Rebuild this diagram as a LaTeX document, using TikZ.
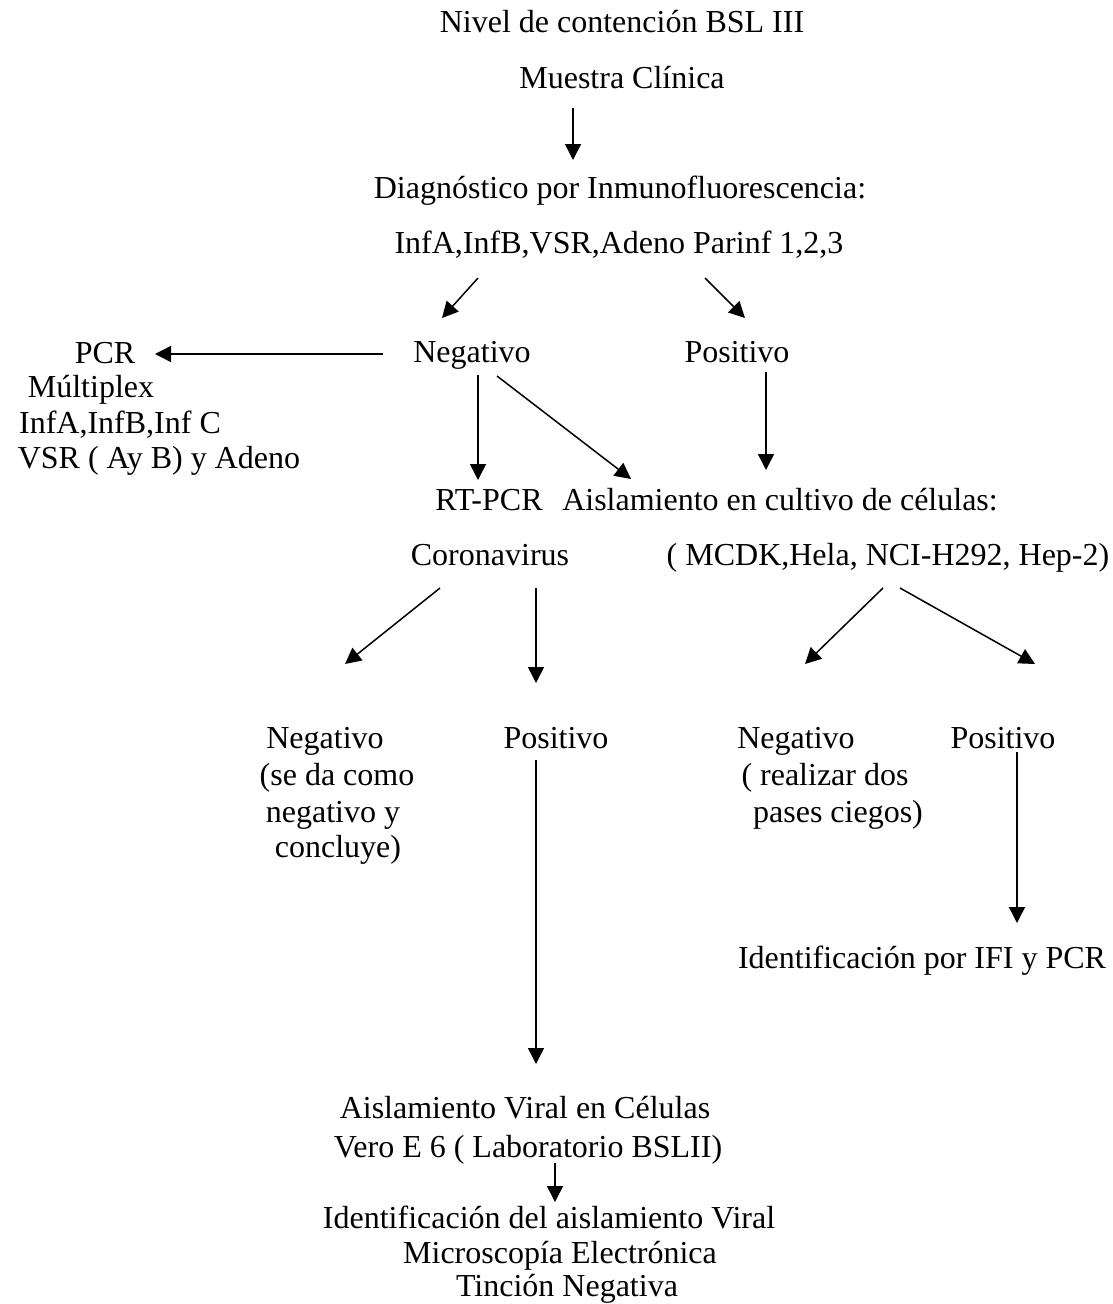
\documentclass[tikz,border=0pt]{standalone}
\usepackage{fontspec}
\setmainfont{Liberation Serif}
\usetikzlibrary{arrows.meta}
\begin{document}
\begin{tikzpicture}[x=1pt,y=-1pt]
    \tikzstyle{every node}=[inner sep=0pt,text height=26pt,text depth=6pt,font=\fontsize{32}{36}\selectfont];
    \tikzstyle{flecha}=[line width=1.5pt,-{Triangle[length=16pt,width=16pt]}];
    \useasboundingbox (0,0) rectangle (1112,1304);
    %\node (name) at (x,y) {text};
    \node (nivel) at (622,22) {Nivel de contención BSL III};
    \node (muestra) at (622,78) {Muestra Clínica};
    \node (diag) at (620,188) {Diagnóstico por Inmunofluorescencia:};
    \node (virus) at (619,243) {InfA,InfB,VSR,Adeno Parinf 1,2,3};
    \node (neg) at (472,352) {Negativo};
    \node (pos) at (737,352) {Positivo};
    \node (pcr) at (105,353) {PCR};
    \node (multi) at (91,387) {Múltiplex};
    \node (infc) at (120,423) {InfA,InfB,Inf C};
    \node (vsr) at (159,458) {VSR ( Ay B) y Adeno};
    \node (rtpcr) at (489,500) {RT-PCR};
    \node (aisl) at (780,500) {Aislamiento en cultivo de células:};
    \node (corona) at (490,555) {Coronavirus};
    \node (lineas) at (888,555) {( MCDK,Hela, NCI-H292, Hep-2)};
    \node (negc) at (325,738) {Negativo};
    \node (negc2) at (337,775) {(se da como};
    \node (negc3) at (333,812) {negativo y};
    \node (negc4) at (338,847) {concluye)};
    \node (posc) at (556,738) {Positivo};
    \node (negk) at (796,738) {Negativo};
    \node (negk2) at (825,775) {( realizar dos};
    \node (negk3) at (838,812) {pases ciegos)};
    \node (posk) at (1003,738) {Positivo};
    \node (ident) at (922,958) {Identificación por IFI y PCR};
    \node (vero1) at (525,1108) {Aislamiento Viral en Células};
    \node (vero2) at (528,1147) {Vero E 6 ( Laboratorio BSLII)};
    \node (final1) at (549,1218) {Identificación del aislamiento Viral};
    \node (final2) at (560,1253) {Microscopía Electrónica};
    \node (final3) at (567,1286) {Tinción Negativa};

    %flechas
    \draw[flecha] ([shift={(-49,30)}]muestra.center)--([shift={(-47,-28)}]diag.center);
    \draw[flecha] ([shift={(-141,35)}]virus.center)--([shift={(-30,-34)}]neg.center);
    \draw[flecha] ([shift={(86,35)}]virus.center)--([shift={(8,-34)}]pos.center);
    \draw[flecha] ([shift={(-89,2)}]neg.center)--([shift={(50,1)}]pcr.center);
    \draw[flecha] ([shift={(6,23)}]neg.center)--([shift={(-11,-20)}]rtpcr.center);
    \draw[flecha] ([shift={(25,24)}]neg.center)--([shift={(-149,-21)}]aisl.center);
    \draw[flecha] ([shift={(29,20)}]pos.center)--([shift={(-14,-30)}]aisl.center);
    \draw[flecha] ([shift={(-50,33)}]corona.center)--([shift={(20,-74)}]negc.center);
    \draw[flecha] ([shift={(46,33)}]corona.center)--([shift={(-20,-55)}]posc.center);
    \draw[flecha] ([shift={(-20,22)}]posc.center)--([shift={(11,-44)}]vero1.center);
    \draw[flecha] ([shift={(-5,33)}]lineas.center)--([shift={(9,-74)}]negk.center);
    \draw[flecha] ([shift={(12,33)}]lineas.center)--([shift={(32,-74)}]posk.center);
    \draw[flecha] ([shift={(14,14)}]posk.center)--([shift={(95,-35)}]ident.center);
    \draw[flecha] ([shift={(27,16)}]vero2.center)--([shift={(6,-16)}]final1.center);
\end{tikzpicture}
\end{document}
